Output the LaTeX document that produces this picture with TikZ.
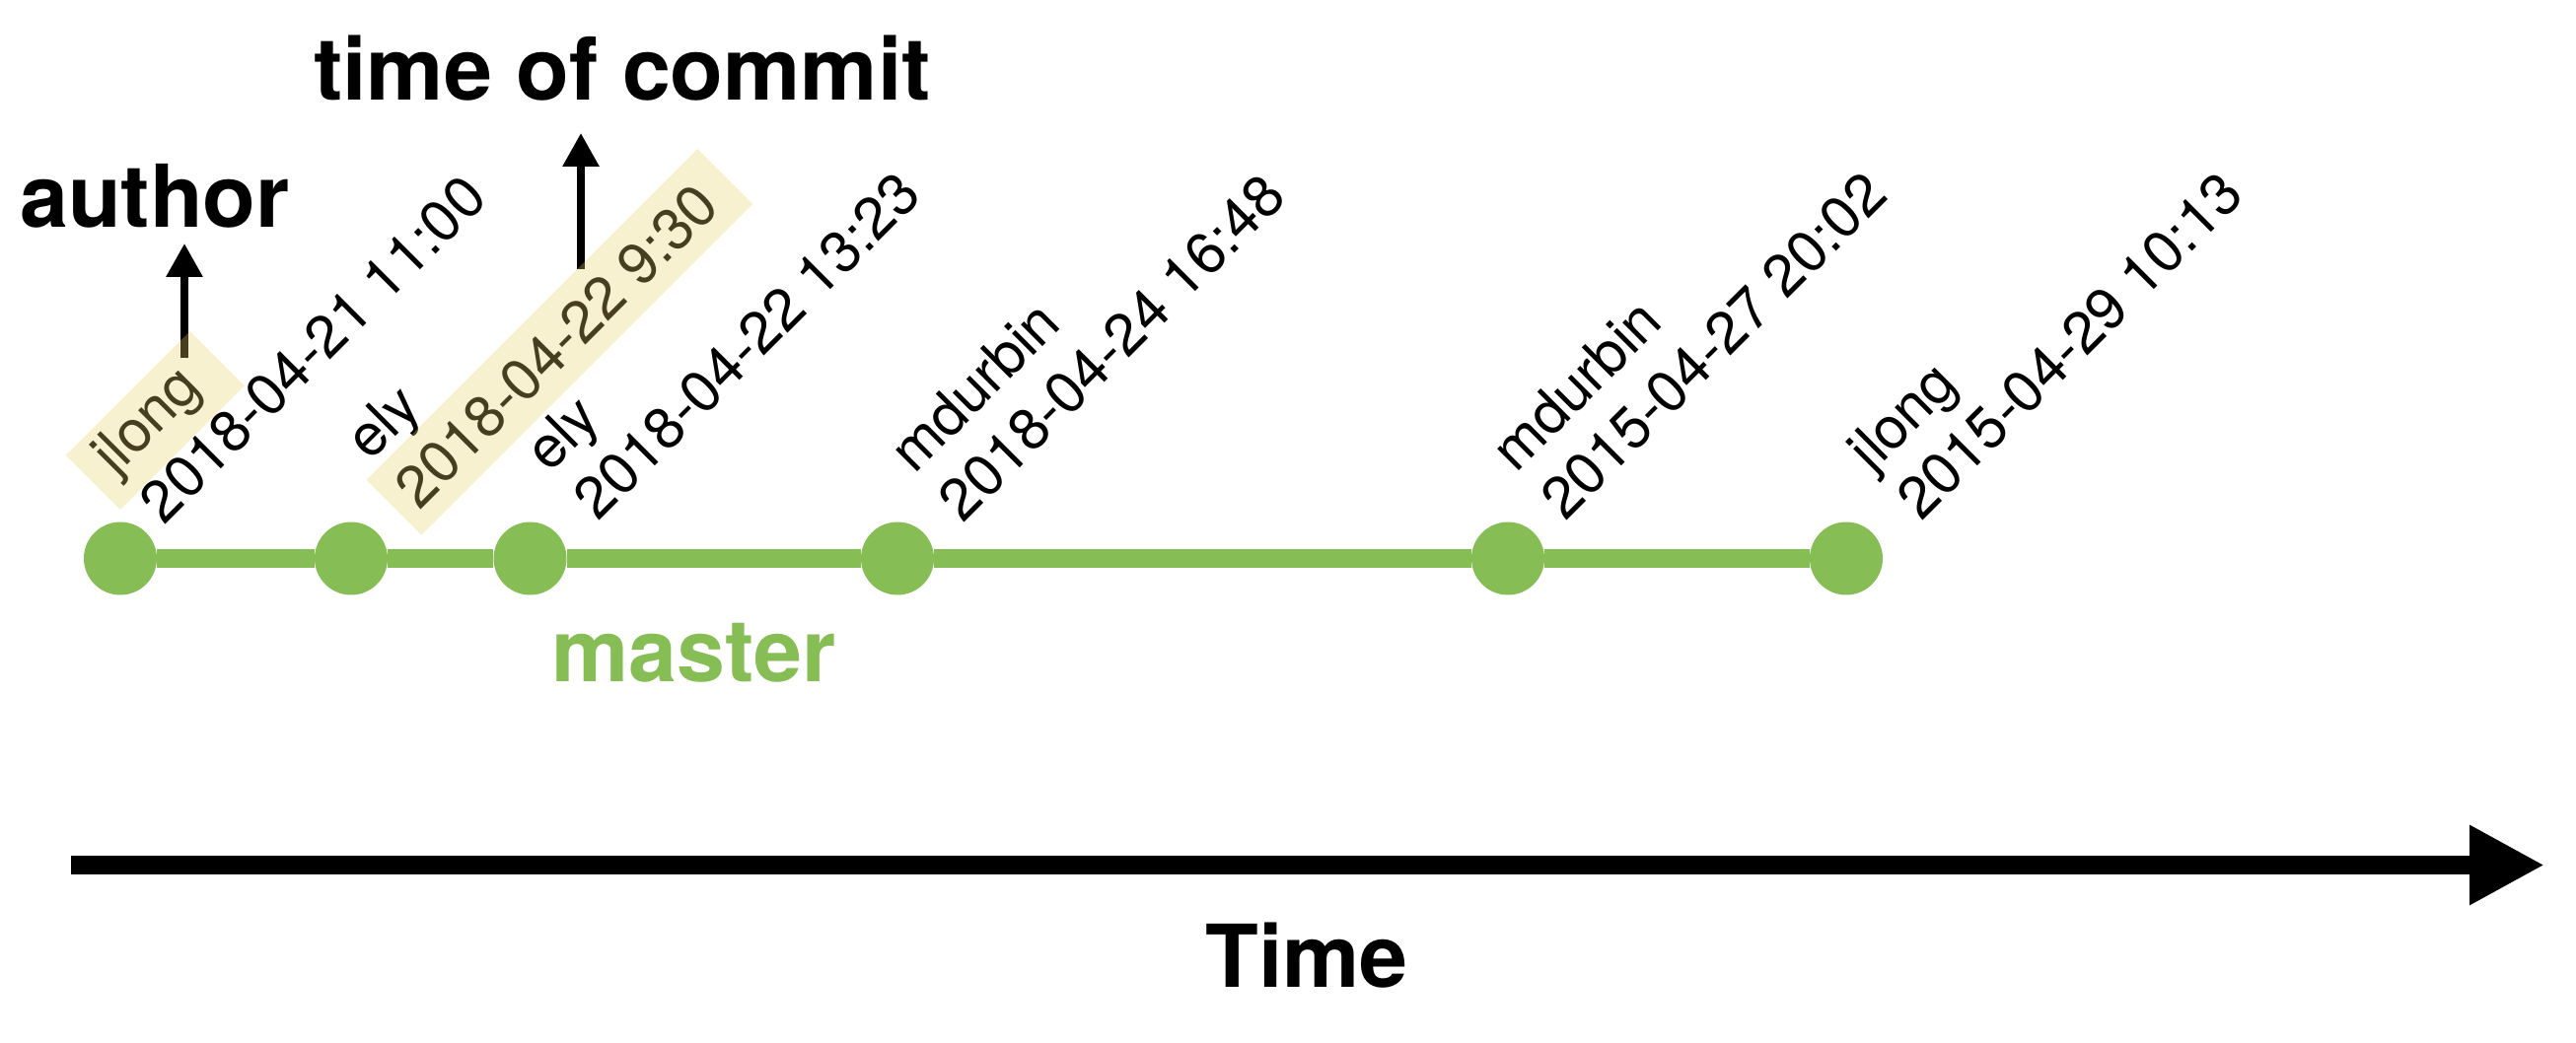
\documentclass[tikz,border=0pt]{standalone}
\usepackage{fontspec}
\setmainfont{TeX Gyre Heros}
\usetikzlibrary{arrows.meta}
\definecolor{gitgreen}{RGB}{134,189,85}
\definecolor{hlyellow}{RGB}{232,208,100}
\begin{document}
\begin{tikzpicture}[x=0.5pt, y=-0.5pt,
  commit/.style={circle, fill=gitgreen, minimum size=37pt, inner sep=0pt},
  lbl/.style={rotate=45, anchor=base west, inner sep=0pt, font=\fontsize{29.5pt}{35pt}\selectfont},
  big/.style={anchor=base, inner sep=0pt, font=\fontsize{44pt}{52pt}\selectfont\bfseries},
  hl/.style={rotate=45, fill=hlyellow, fill opacity=0.3, inner sep=0pt},
  ptr/.style={line width=3.65pt, -{Triangle[width=17.8pt, length=17pt]}},
  timeline/.style={line width=9.25pt, -{Triangle[width=38pt, length=38pt]}},
  branch/.style={draw=gitgreen, line width=9.35pt},
]
\useasboundingbox (0,0) rectangle (2612,1058);

% commits
\node[commit] (c1) at (122,566.5) {};
\node[commit] (c2) at (356,566.5) {};
\node[commit] (c3) at (537.5,566.5) {};
\node[commit] (c4) at (910,566.5) {};
\node[commit] (c5) at (1529,566.5) {};
\node[commit] (c6) at (1872,566.5) {};
\draw[branch] (c1) -- (c2) -- (c3) -- (c4) -- (c5) -- (c6);

% commit labels
\node[lbl] (a1) at (117.2,483.8) {jlong};
\node[lbl] (d1) at (166.7,533.3) {2018-04-21 11:00};
\node[lbl] (a2) at (375.5,468.8) {ely};
\node[lbl] (d2) at (425,518.3) {2018-04-22 9:30};
\node[lbl] (a3) at (557.2,480.5) {ely};
\node[lbl] (d3) at (606.7,530) {2018-04-22 13:23};
\node[lbl] (a4) at (927.2,482.2) {mdurbin};
\node[lbl] (d4) at (976.7,531.7) {2018-04-24 16:48};
\node[lbl] (a5) at (1537.2,480.5) {mdurbin};
\node[lbl] (d5) at (1586.7,530) {2015-04-27 20:02};
\node[lbl] (a6) at (1898.5,480.5) {jlong};
\node[lbl] (d6) at (1948,530) {2015-04-29 10:13};

% big labels
\node[big] (author) at (157,230.7) {author};
\node[big] (toc) at (631,101.7) {time of commit};
\node[big, text=gitgreen] (master) at (703.3,691.7) {master};
\node[big] (time) at (1325,1001.7) {Time};

% pointer arrows
\coordinate (p1s) at (187,363);
\coordinate (p1e) at (187,247);
\coordinate (p2s) at (589,272.7);
\coordinate (p2e) at (589,135);
\draw[ptr] (p1s) -- (p1e);
\draw[ptr] (p2s) -- (p2e);

% highlight boxes (over text)
\node[hl, minimum width=89pt, minimum height=39pt] (hl1) at (157.3,426.6) {};
\node[hl, minimum width=237.5pt, minimum height=39.5pt] (hl2) at (567.4,346.9) {};

% time axis
\coordinate (t0) at (72,877.5);
\coordinate (t1) at (2580,877.5);
\draw[timeline] (t0) -- (t1);
\end{tikzpicture}
\end{document}
